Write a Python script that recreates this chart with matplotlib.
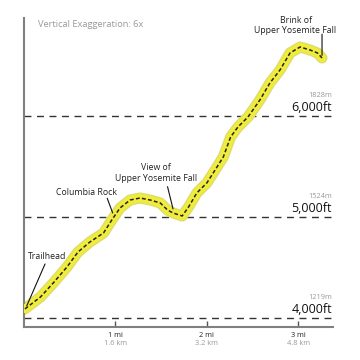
import numpy as np
import matplotlib.pyplot as plt

plt.rcParams['font.family'] = ['Open Sans', 'DejaVu Sans']

# trail profile (miles, feet)
dist_mi = [0.01, 0.18, 0.32, 0.47, 0.59, 0.72, 0.87, 0.96, 1.05, 1.16, 1.27,
           1.38, 1.49, 1.57, 1.63, 1.73, 1.80, 1.89, 2.00, 2.07, 2.18, 2.26,
           2.34, 2.45, 2.58, 2.69, 2.80, 2.91, 3.02, 3.13, 3.21, 3.26]
elev_ft = [4090, 4208, 4347, 4505, 4653, 4752, 4842, 4970, 5089, 5168, 5188,
           5168, 5139, 5069, 5040, 5010, 5099, 5238, 5337, 5436, 5594, 5792,
           5891, 5990, 6158, 6327, 6455, 6624, 6683, 6653, 6624, 6574]

ref_ft = [4000, 5000, 6000]
ref_ft_labels = ['4,000ft', '5,000ft', '6,000ft']
ref_m_labels = ['1219m', '1524m', '1828m']

tick_mi = [1, 2, 3]
tick_mi_labels = ['1 mi', '2 mi', '3 mi']
tick_km_labels = ['1.6 km', '3.2 km', '4.8 km']

# label text, text position, line start, line end
callouts = [
    ('Trailhead', (0.25, 4604), (0.23, 4535), (0.03, 4120)),
    ('Columbia Rock', (0.68, 5247), (0.91, 5185), (0.97, 5040)),
    ('View of\nUpper Yosemite Fall', (1.445, 5436), (1.57, 5300), (1.63, 5080)),
    ('Brink of\nUpper Yosemite Fall', (2.97, 6896), (3.26, 6810), (3.26, 6600)),
]

fig = plt.figure(figsize=(3.6, 3.6), dpi=100)
ax = fig.add_axes([0.0667, 0.0917, 0.8583, 0.8583])
ax.set_xlim(0, 3.38)
ax.set_ylim(3911, 6970)

for s in ['top', 'right']:
    ax.spines[s].set_visible(False)
for s in ['left', 'bottom']:
    ax.spines[s].set_color('#808080')
    ax.spines[s].set_linewidth(1.5)
ax.set_yticks([])
ax.set_xticks(tick_mi)
ax.set_xticklabels([])
ax.tick_params(axis='x', direction='in', length=4, width=1, color='#555555')

# reference elevations
for ft, lab, m in zip(ref_ft, ref_ft_labels, ref_m_labels):
    ax.axhline(ft, color='#333333', lw=1, ls=(0, (5, 4)), zorder=1)
    ax.text(3.37, ft + 80, lab, ha='right', va='center', fontsize=9, color='#111111')
    ax.text(3.37, ft + 200, m, ha='right', va='center', fontsize=5.3, color='#999999')

# profile: yellow band with a dashed center line
ax.plot(dist_mi, elev_ft, color='#dedc6e', lw=8, solid_capstyle='round',
        solid_joinstyle='round', zorder=2)
ax.plot(dist_mi, elev_ft, color='#f0ec3a', lw=6, solid_capstyle='round',
        solid_joinstyle='round', zorder=3)
ax.plot(dist_mi, elev_ft, color='#222222', lw=1.1, ls=(0, (2.5, 1.5)), zorder=4)

for txt, tpos, p0, p1 in callouts:
    ax.text(tpos[0], tpos[1], txt, ha='center', va='center', fontsize=6.3,
            color='#222222', linespacing=1.25)
    ax.annotate('', xy=p1, xytext=p0,
                arrowprops=dict(arrowstyle='-', color='#111111', lw=0.8,
                                shrinkA=0, shrinkB=0))

xt = ax.get_xaxis_transform()
for mi, a, b in zip(tick_mi, tick_mi_labels, tick_km_labels):
    ax.text(mi, -0.026, a, transform=xt, ha='center', va='center', fontsize=5.3,
            color='#222222')
    ax.text(mi, -0.052, b, transform=xt, ha='center', va='center', fontsize=5.3,
            color='#999999')

ax.text(0.045, 0.98, 'Vertical Exaggeration: 6x', transform=ax.transAxes,
        ha='left', va='center', fontsize=6.7, color='#999999')

fig.savefig('out.png', dpi=100)
